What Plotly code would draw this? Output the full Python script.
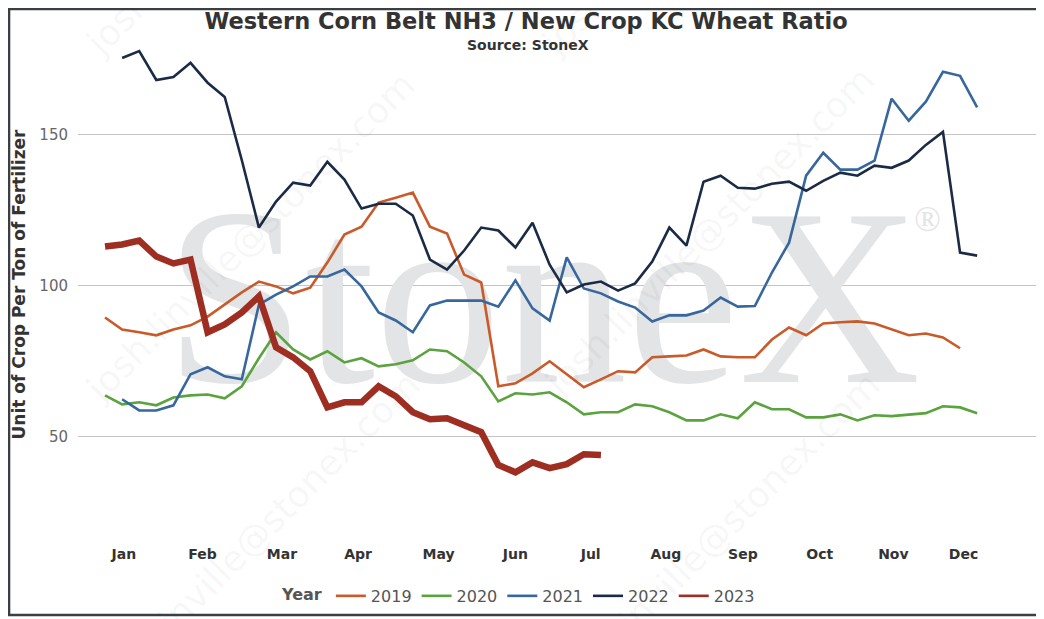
import plotly.graph_objects as go

# weekly ratio values
weeks_2019 = list(range(1, 52))
ratio_2019 = [89.4, 85.4, 84.5, 83.5, 85.4, 86.8, 89.7, 93.7, 97.7, 101.3,
              99.7, 97.4, 99.3, 107.6, 116.9, 119.5, 127.5, 129.1, 130.8, 119.5,
              117.2, 103.6, 101.0, 66.6, 67.6, 70.9, 74.9, 70.6, 66.3, 68.9,
              71.6, 71.2, 76.2, 76.5, 76.8, 78.8, 76.5, 76.2, 76.2, 82.1,
              86.1, 83.5, 87.4, 87.8, 88.1, 87.4, 85.4, 83.5, 84.1, 82.8,
              79.2]

weeks_2020 = list(range(1, 53))
ratio_2020 = [63.6, 60.6, 61.3, 60.3, 62.9, 63.6, 63.9, 62.6, 66.6, 75.9,
              84.5, 78.8, 75.5, 78.2, 74.5, 75.9, 73.2, 73.9, 75.2, 78.8,
              78.2, 74.5, 69.9, 61.6, 64.3, 63.9, 64.6, 61.3, 57.3, 58.0,
              58.0, 60.6, 60.0, 58.0, 55.3, 55.3, 57.3, 56.0, 61.3, 59.0,
              59.0, 56.3, 56.3, 57.3, 55.3, 57.0, 56.7, 57.3, 57.7, 60.0,
              59.6, 57.7]

weeks_2021 = list(range(2, 53))
ratio_2021 = [62.3, 58.6, 58.6, 60.3, 70.6, 72.9, 69.9, 68.9, 93.7, 97.0,
              99.7, 103.0, 103.0, 105.3, 99.7, 91.1, 88.4, 84.5, 93.4, 95.0,
              95.0, 95.0, 93.0, 101.7, 92.4, 88.4, 109.3, 99.0, 97.4, 94.7,
              92.7, 88.1, 90.1, 90.1, 91.7, 96.0, 93.0, 93.2, 104.3, 114.2,
              136.4, 144.0, 138.4, 138.4, 141.4, 161.9, 154.6, 160.9, 170.8, 169.5,
              159.0]

weeks_2022 = list(range(2, 53))
ratio_2022 = [175.4, 177.7, 168.1, 169.1, 173.8, 167.2, 162.5, 141.5, 119.2, 127.8,
              134.1, 133.1, 141.0, 135.1, 125.5, 127.1, 127.1, 123.2, 108.6, 105.3,
              111.6, 119.2, 118.2, 112.6, 120.8, 106.9, 97.7, 100.3, 101.3, 98.3,
              100.7, 107.9, 119.2, 113.2, 134.4, 136.4, 132.4, 132.1, 133.7, 134.4,
              131.4, 134.7, 137.4, 136.4, 139.7, 139.0, 141.4, 146.6, 150.9, 110.9,
              109.9]

weeks_2023 = list(range(1, 31))
ratio_2023 = [112.9, 113.6, 114.9, 109.6, 107.3, 108.6, 84.5, 87.1, 91.1, 96.4,
              79.5, 76.2, 71.6, 59.6, 61.3, 61.3, 66.6, 63.3, 58.0, 55.7,
              56.0, 53.7, 51.4, 40.5, 38.1, 41.4, 39.5, 40.8, 44.1, 43.8]

month_labels = ['Jan', 'Feb', 'Mar', 'Apr', 'May', 'Jun',
                'Jul', 'Aug', 'Sep', 'Oct', 'Nov', 'Dec']
month_weeks = [2.1, 6.7, 11.35, 15.8, 20.5, 25.0, 29.4, 33.8, 38.3, 42.8, 47.1, 51.2]

series = [
    ('2019', weeks_2019, ratio_2019, '#C95A2A', 2.6),
    ('2020', weeks_2020, ratio_2020, '#5AA33E', 2.6),
    ('2021', weeks_2021, ratio_2021, '#37679D', 2.6),
    ('2022', weeks_2022, ratio_2022, '#1B2B45', 2.6),
    ('2023', weeks_2023, ratio_2023, '#9E2E21', 6.5),
]

fig = go.Figure()

# big StoneX watermark sits under the lines
fig.add_trace(go.Scatter(
    x=[26.6, 49.1], y=[88.8, 120.8], mode='text', text=['StoneX', '®'],
    textfont=dict(family='Liberation Serif', size=[252, 35], color='#E3E4E6'),
    hoverinfo='skip', showlegend=False))

for name, wk, vals, color, width in series:
    fig.add_trace(go.Scatter(x=wk, y=vals, name=name, mode='lines', legendgroup=name,
                             showlegend=False, line=dict(color=color, width=width)))
    # legend sample keeps the thin line for every year
    fig.add_trace(go.Scatter(x=[None], y=[None], name=name, mode='lines', legendgroup=name,
                             line=dict(color=color, width=2.6)))

# diagonal e-mail watermarks
for cx, cy in [(0.18, 1.27), (0.655, 1.27), (0.18, 0.595), (0.658, 0.605),
               (0.185, 0.01), (0.665, 0.01)]:
    fig.add_annotation(text='josh.linville@stonex.com', x=cx, y=cy, xref='paper', yref='paper',
                       xanchor='center', yanchor='middle', textangle=-45, showarrow=False,
                       font=dict(family='DejaVu Sans', size=36, color='rgba(0,0,0,0.05)'))

fig.add_annotation(text='<b>Source: StoneX</b>', x=0.469, y=0.969, xref='paper', yref='paper',
                   xanchor='center', yanchor='middle', showarrow=False,
                   font=dict(family='DejaVu Sans', size=14, color='#333333'))
fig.add_annotation(text='<b>Unit of Crop Per Ton of Fertilizer</b>', x=-0.0615, y=0.502,
                   xref='paper', yref='paper', xanchor='center', yanchor='middle',
                   textangle=-90, showarrow=False,
                   font=dict(family='DejaVu Sans', size=17, color='#333333'))

# outer frame of the image
fig.add_shape(type='rect', xref='paper', yref='paper',
              x0=-0.0719, x1=1.0052, y0=-0.1425, y1=1.0389,
              line=dict(color='#3A3F45', width=2.5))

fig.update_layout(
    width=1036, height=611,
    margin=dict(l=70, r=7, t=21, b=76),
    paper_bgcolor='white', plot_bgcolor='white',
    font=dict(family='DejaVu Sans', color='#333333'),
    title=dict(text='<b>Western Corn Belt NH3 / New Crop KC Wheat Ratio</b>',
               x=0.5, xanchor='center', y=0.979, yanchor='middle', yref='container',
               font=dict(family='DejaVu Sans', size=22.5, color='#333333')),
    legend=dict(orientation='h', x=0.461, xanchor='center', y=-0.103, yanchor='middle',
                bgcolor='rgba(0,0,0,0)',
                title=dict(text='<b>Year</b>', font=dict(size=16, color='#555555')),
                font=dict(size=16, color='#555555'), itemwidth=30),
    showlegend=True,
)
fig.update_xaxes(range=[-0.58, 55.5], tickvals=month_weeks, ticktext=month_labels,
                 showgrid=False, zeroline=False, showline=False, ticks='',
                 tickfont=dict(family='DejaVu Sans', size=14, color='#333333', weight='bold'),
                 ticklabelstandoff=2)
fig.update_yaxes(range=[15, 185], tickvals=[50, 100, 150], showgrid=True,
                 gridcolor='#C4C4C4', gridwidth=1, zeroline=False, showline=False, ticks='',
                 tickfont=dict(family='DejaVu Sans', size=15, color='#666666'),
                 ticklabelstandoff=9)

fig.write_html("out.html")
